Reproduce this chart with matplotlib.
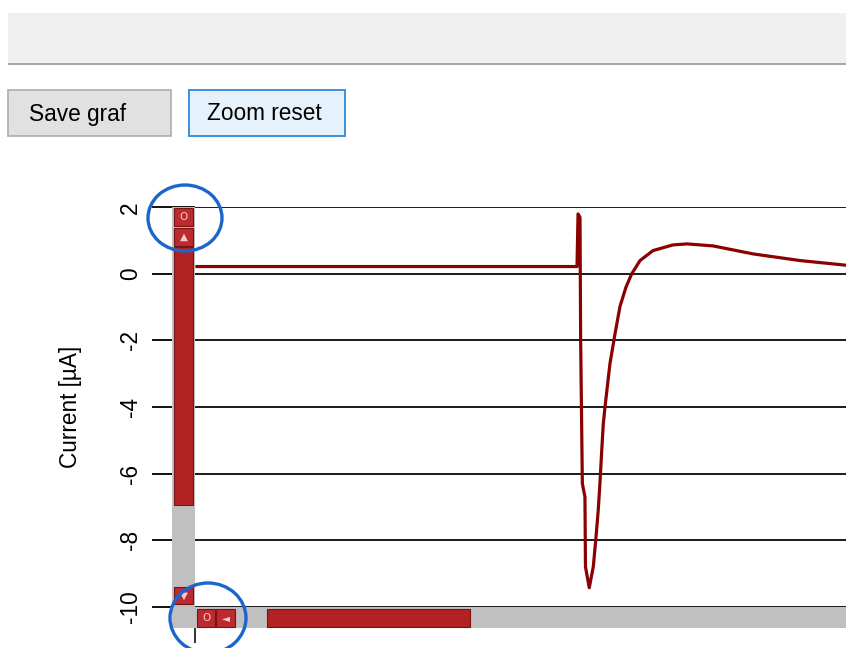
import numpy as np
import matplotlib
matplotlib.use('Agg')
import matplotlib.pyplot as plt
from matplotlib.patches import Rectangle, Ellipse

plt.rcParams['font.family'] = ['Liberation Sans', 'DejaVu Sans']

W, H = 846, 648

# recorded current trace (time in ms, current in uA)
t_ms = [0.15, 29.34, 29.42, 29.57, 29.62, 29.75, 29.95, 29.99, 30.28, 30.59,
        30.78, 30.97, 31.10, 31.24, 31.36, 31.49, 31.87, 32.26, 32.64, 33.10,
        33.54, 34.18, 35.18, 36.71, 37.79, 39.79, 42.86, 46.47, 50.0]
current_uA = [0.22, 0.22, 1.80, 1.70, -2.0, -6.3, -6.7, -8.8, -9.43, -8.8,
              -8.0, -7.1, -6.3, -5.3, -4.5, -4.0, -2.7, -1.8, -0.98, -0.4,
              0.0, 0.4, 0.7, 0.87, 0.9, 0.84, 0.6, 0.4, 0.26]
y_ticks = [2, 0, -2, -4, -6, -8, -10]


def fx(px):
    return px / W


def fy(py):
    return 1 - py / H


def box(x0, y0, x1, y1, fc, ec='none', lw=0, z=5):
    r = Rectangle((fx(x0), fy(y1)), fx(x1) - fx(x0), fy(y0) - fy(y1),
                  transform=fig.transFigure, facecolor=fc, edgecolor=ec,
                  linewidth=lw, zorder=z)
    fig.add_artist(r)
    return r


fig = plt.figure(figsize=(W / 100, H / 100), dpi=100)
fig.patch.set_facecolor('white')

# plot area
top_px, bot_px, left_px = 207.3, 606.7, 195
ax = fig.add_axes([fx(left_px), fy(bot_px), 1 - fx(left_px), fy(top_px) - fy(bot_px)])
ax.plot(t_ms, current_uA, color='#8b0000', lw=2.3, zorder=3, solid_joinstyle='round')
ax.set_xlim(0, 50)
ax.set_ylim(-10, 2)
ax.set_yticks(y_ticks)
ax.set_yticklabels([str(v) for v in y_ticks], rotation=90, va='center', fontsize=16.3)
ax.set_xticks([0])
ax.set_xticklabels([''])
ax.tick_params(axis='y', length=31, width=1.4, pad=7, color='#111111')
ax.tick_params(axis='x', length=26, width=1.2, color='#111111')
ax.grid(axis='y', color='#1a1a1a', lw=1.4)
ax.set_axisbelow(True)
for s in ax.spines.values():
    s.set_visible(False)

fig.text(fx(71), fy(407), 'Current [µA]', rotation=90, ha='center', va='center',
         fontsize=16.3)

# toolbar strip
box(8, 13, W, 63, '#f0f0f0', z=2)
box(8, 63, W, 65, '#a8a8a8', z=2)

# buttons
box(8, 90, 171, 136, '#e1e1e1', ec='#adadad', lw=1.2, z=2)
fig.text(fx(78), fy(114), 'Save graf', ha='center', va='center', fontsize=16.3)
box(189, 90, 345, 136, '#e5f1fb', ec='#3c8fe0', lw=1.4, z=2)
fig.text(fx(264), fy(114), 'Zoom reset', ha='center', va='center', fontsize=16.3)

# scrollbars
red, red_ec, track = '#b22222', '#7a1414', '#c0c0c0'
box(172, 207, 195, 628, track)
box(195, 607, W, 628, track)
box(174, 247, 193, 505, red, red_ec, 0.8)
box(267, 609, 470, 627, red, red_ec, 0.8)
for (x0, y0, x1, y1, g) in [(174, 208, 193, 226, 'O'), (174, 228, 193, 246, '▲'),
                            (174, 587, 193, 604, '▼'), (197, 609, 215, 627, 'O'),
                            (216, 609, 235, 627, '◄')]:
    box(x0, y0, x1, y1, '#bb2a2e', red_ec, 0.8)
    fig.text(fx((x0 + x1) / 2), fy((y0 + y1) / 2), g, ha='center', va='center',
             fontsize=7.5, color='#f3c9c9', zorder=6, family=['DejaVu Sans'])

# highlight rings
for cx, cy, rx, ry in [(185, 218, 37, 33), (208, 618, 38, 35)]:
    e = Ellipse((fx(cx), fy(cy)), 2 * rx / W, 2 * ry / H, transform=fig.transFigure,
                fill=False, edgecolor='#1a66cc', linewidth=2.4, zorder=7)
    fig.add_artist(e)

plt.savefig('out.png', dpi=100)
